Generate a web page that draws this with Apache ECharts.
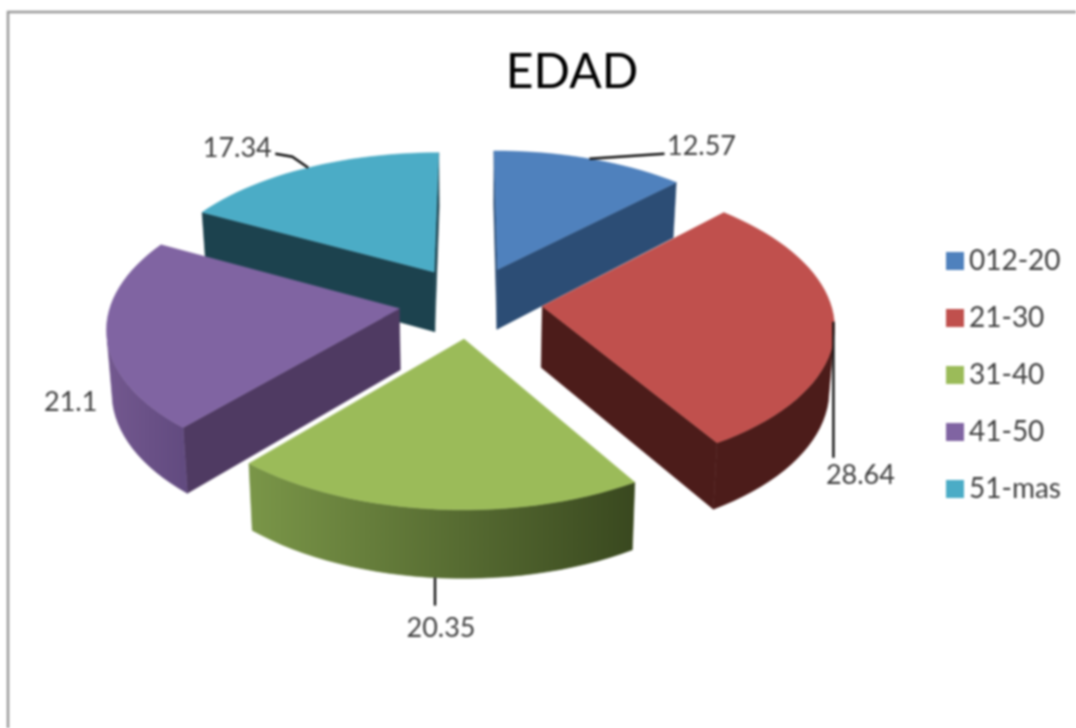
<!DOCTYPE html>
<html><head><meta charset="utf-8">
<style>html,body{margin:0;padding:0;background:#fff}#c{width:1076px;height:728px;filter:blur(.8px)}</style>
<script src="https://cdn.jsdelivr.net/npm/echarts@6/dist/echarts.min.js"></script>
</head><body><div id="c"></div>
<script>
const categories = ['012-20','21-30','31-40','41-50','51-mas'];
const values = [12.57,28.64,20.35,21.1,17.34];
const valueLabels = ['12.57','28.64','20.35','21.1','17.34'];
const topColors = ['#4F81BD','#C0504D','#9BBB59','#8064A2','#4BACC6'];
const radialWall = ['#2C4D75','#4C1C1A','#4A5C2A','#4F3A62','#1C424E'];
const arcWallLeft = ['#2C4D75','#4C1C1A','#7A9648','#73588F','#1C424E'];
const arcWallRight = ['#2C4D75','#4C1C1A','#39481F','#614A7F','#1C424E'];
const drawOrder = [3,4,5,4,2];
const titleText = 'EDAD';

// projection of the tilted pie
const cx = 470.5, cy = 302, R = 288, explode = 0.25;
const persp = 0.122, ya = 144.4, yb = 17.6, hBase = 61, hSlope = 6, bottomShrink = 0.985;
function proj(x,y){ const f = 1+persp*y; return [cx+R*x*f, cy+ya*y+yb*y*y]; }
function projB(x,y){ const p = proj(x,y); return [cx+(p[0]-cx)*bottomShrink, p[1]+hBase+hSlope*y]; }

const total = values.reduce((a,b)=>a+b,0);
const slices = []; let acc = 0;
values.forEach(v=>{ const a0 = acc/total*2*Math.PI; acc+=v; slices.push({a0, a1:acc/total*2*Math.PI}); });

// leader/label offsets from each slice's rim anchor
const labelLayout = [
 {dx:112,dy:-13,line:[[0,0],[75,-5]],anchor:'top'},
 {dx:26,dy:152,line:[[-1,-2],[-1,134]],anchor:'top'},
 {dx:6,dy:51,line:[[0,0],[0,28]],anchor:'bottom'},
 {dx:-36,dy:67,line:null,anchor:'top'},
 {dx:-71,dy:-19,line:[[0,0],[-16,-11],[-33,-14]],anchor:'top'}
];

function renderSlice(i){
 return function(params, api){
  const v = api.value(0);
  const s = slices[i], mid = (s.a0+s.a1)/2;
  const ox = explode*Math.sin(mid), oy = -explode*Math.cos(mid);
  const pt = a => [ox+Math.sin(a), oy-Math.cos(a)];
  const n = Math.max(8, Math.ceil(v*1.5));
  const arc = []; for(let k=0;k<=n;k++) arc.push(pt(s.a0+(s.a1-s.a0)*k/n));
  const apex = [ox,oy];
  const kids = [];
  const quad = (a,b,fill)=>kids.push({type:'polygon',shape:{points:[proj(a[0],a[1]),proj(b[0],b[1]),projB(b[0],b[1]),projB(a[0],a[1])]},style:{fill:fill,stroke:fill,lineWidth:0.5}});
  const visible = (a,b)=>proj(b[0],b[1])[0]-proj(a[0],a[1])[0] < -1;
  if(visible(apex,arc[0])) quad(apex,arc[0],radialWall[i]);
  if(visible(arc[n],apex)) quad(arc[n],apex,radialWall[i]);
  const run = []; for(let k=0;k<=n;k++){ if((k<n&&visible(arc[k],arc[k+1]))||(k>0&&visible(arc[k-1],arc[k]))) run.push(arc[k]); }
  if(run.length>1){
    const tops = run.map(p=>proj(p[0],p[1])), bots = run.map(p=>projB(p[0],p[1])).reverse();
    const grad = ()=>new echarts.graphic.LinearGradient(0,0,1,0,[{offset:0,color:arcWallLeft[i]},{offset:1,color:arcWallRight[i]}]);
    kids.push({type:'polygon',shape:{points:tops.concat(bots)},style:{fill:grad(),stroke:grad(),lineWidth:0.6}});
  }
  kids.push({type:'polygon',shape:{points:[proj(apex[0],apex[1])].concat(arc.map(p=>proj(p[0],p[1])))},style:{fill:topColors[i],stroke:topColors[i],lineWidth:0.5}});
  const L = labelLayout[i];
  const rim = pt(mid);
  const anc = L.anchor==='bottom'?projB(rim[0],rim[1]):proj(rim[0],rim[1]);
  if(L.line) kids.push({type:'polyline',shape:{points:L.line.map(d=>[anc[0]+d[0],anc[1]+d[1]])},style:{fill:'none',stroke:'#111',lineWidth:2.4}});
  kids.push({type:'text',style:{text:valueLabels[i],x:anc[0]+L.dx,y:anc[1]+L.dy,align:'center',verticalAlign:'middle',fill:'#404040',font:'27px Lato'}});
  return {type:'group',children:kids};
 };
}

const chart = echarts.init(document.getElementById('c'),null,{renderer:'canvas'});
chart.setOption({
 animation:false,
 backgroundColor:'#fff',
 title:{text:titleText,left:567,top:44,textAlign:'center',textStyle:{fontFamily:'Lato',fontSize:48,fontWeight:'normal',color:'#000'}},
 legend:{orient:'vertical',left:946,top:247,padding:0,itemWidth:18,itemHeight:18,itemGap:29,icon:'rect',
   data:categories,textStyle:{fontFamily:'Lato',fontSize:28,color:'#404040'}},
 graphic:[{type:'rect',shape:{x:8,y:12,width:1200,height:900},style:{fill:'none',stroke:'#999',lineWidth:2.5},z:-1}],
 series:categories.map((c,i)=>({
   type:'custom',name:c,coordinateSystem:'none',z:drawOrder[i],silent:true,
   itemStyle:{color:topColors[i]},
   data:[[values[i]]],
   renderItem:renderSlice(i)
 }))
});
</script></body></html>
